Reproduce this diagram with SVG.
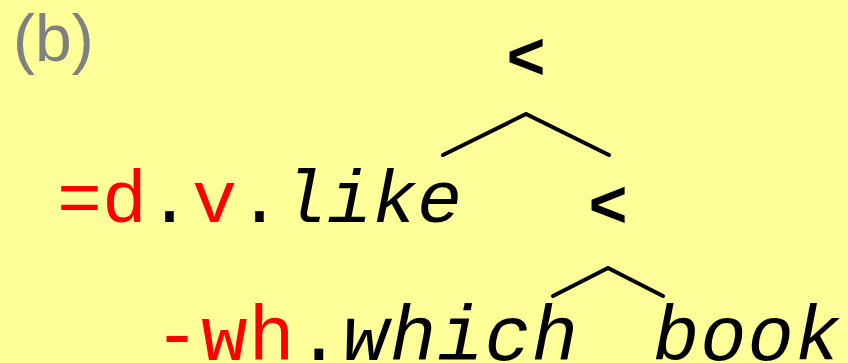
<svg xmlns="http://www.w3.org/2000/svg" width="848" height="363" viewBox="0 0 848 363">
<style>
.bg{fill:#FFFF99}
.lbl{font-family:"Liberation Sans",Arial,sans-serif;font-size:66px;fill:#808080}
.op{font-family:"Liberation Sans",Arial,sans-serif;font-size:66px;font-weight:bold;fill:#000;text-anchor:middle}
.mono{font-family:"Liberation Mono","Courier New",monospace;font-size:75px;fill:#000}
.big{font-size:77px;letter-spacing:1px}
.red{fill:#FF0000}
.it{font-style:italic}
.edge{stroke:#000;stroke-width:4;stroke-linecap:round;stroke-linejoin:miter;fill:none}
</style>
<rect class="bg" x="0" y="0" width="848" height="363"/>
<text class="lbl" x="13" y="61">(b)</text>
<g id="connectors">
<polyline class="edge" points="443,155 526,114 609,155"/>
<polyline class="edge" points="553,296 608,268 663,296"/>
</g>
<g id="node-root"><text class="op" x="526" y="79">&lt;</text></g>
<g id="node-like"><text class="mono" x="57" y="222"><tspan class="red">=d</tspan>.<tspan class="red">v</tspan>.<tspan class="it">like</tspan></text></g>
<g id="node-inner"><text class="op" x="608" y="227">&lt;</text></g>
<g id="node-which"><text class="mono big" x="154" y="360"><tspan class="red">-wh</tspan>.<tspan class="it">which</tspan></text></g>
<g id="node-book"><text class="mono big it" x="653" y="360">book</text></g>
</svg>
